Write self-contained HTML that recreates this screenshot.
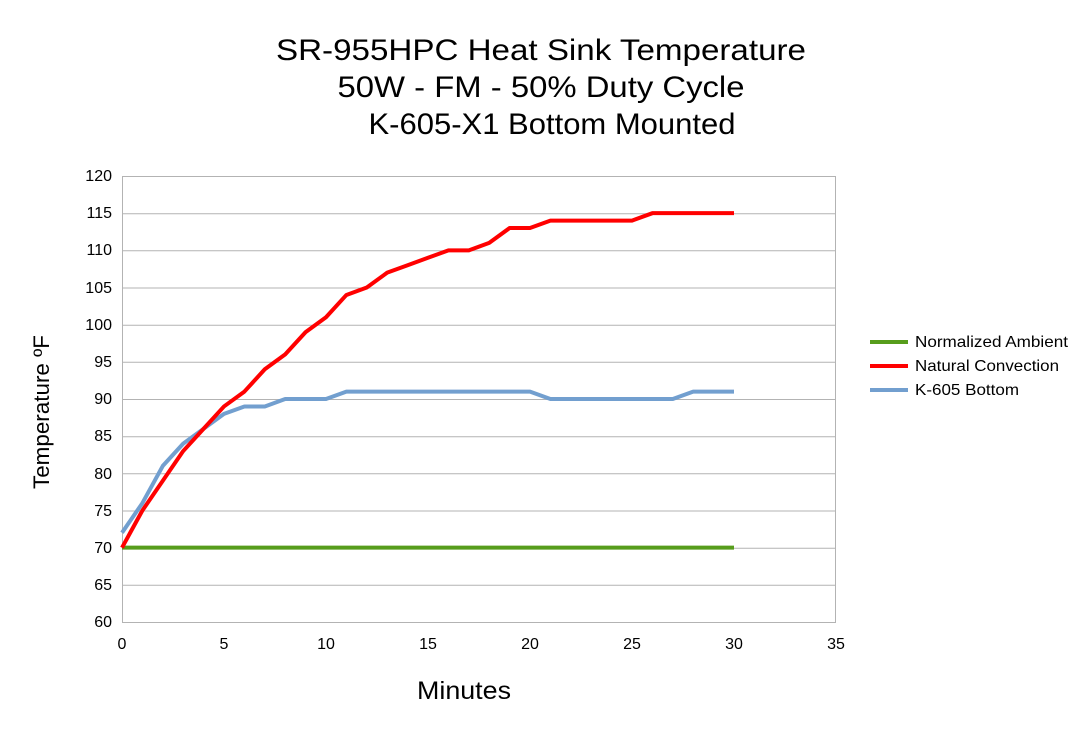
<!DOCTYPE html>
<html><head><style>body{margin:0;background:#fff}</style></head><body>
<svg width="1084" height="734" xmlns="http://www.w3.org/2000/svg" font-family="Liberation Sans, sans-serif">
<rect width="1084" height="734" fill="#fff"/>
<g font-size="30" text-anchor="middle" fill="#000">
<text x="541" y="60" textLength="530" lengthAdjust="spacingAndGlyphs">SR-955HPC Heat Sink Temperature</text>
<text x="541" y="97" textLength="407" lengthAdjust="spacingAndGlyphs">50W - FM - 50% Duty Cycle</text>
<text x="552" y="134" textLength="367" lengthAdjust="spacingAndGlyphs">K-605-X1 Bottom Mounted</text>
</g>
<g stroke="#b3b3b3" stroke-width="1">
<line x1="122" x2="836" y1="176.5" y2="176.5"/><line x1="122" x2="836" y1="213.7" y2="213.7"/>
<line x1="122" x2="836" y1="250.8" y2="250.8"/><line x1="122" x2="836" y1="288" y2="288"/>
<line x1="122" x2="836" y1="325.2" y2="325.2"/><line x1="122" x2="836" y1="362.3" y2="362.3"/>
<line x1="122" x2="836" y1="399.5" y2="399.5"/><line x1="122" x2="836" y1="436.7" y2="436.7"/>
<line x1="122" x2="836" y1="473.8" y2="473.8"/><line x1="122" x2="836" y1="511" y2="511"/>
<line x1="122" x2="836" y1="548.2" y2="548.2"/><line x1="122" x2="836" y1="585.3" y2="585.3"/>
<line x1="122" x2="836" y1="622.5" y2="622.5"/>
<line x1="122.5" x2="122.5" y1="176" y2="622"/><line x1="835.5" x2="835.5" y1="176" y2="622"/>
</g>
<g font-size="16" text-anchor="end" fill="#000">
<text x="112" y="181">120</text><text x="112" y="218">115</text><text x="112" y="255">110</text>
<text x="112" y="293">105</text><text x="112" y="330">100</text><text x="112" y="367">95</text>
<text x="112" y="404">90</text><text x="112" y="441">85</text><text x="112" y="479">80</text>
<text x="112" y="516">75</text><text x="112" y="553">70</text><text x="112" y="590">65</text>
<text x="112" y="627">60</text>
</g>
<g font-size="16" text-anchor="middle" fill="#000">
<text x="122" y="649">0</text><text x="224" y="649">5</text><text x="326" y="649">10</text>
<text x="428" y="649">15</text><text x="530" y="649">20</text><text x="632" y="649">25</text>
<text x="734" y="649">30</text><text x="836" y="649">35</text>
</g>
<text x="464" y="699" font-size="25" text-anchor="middle" textLength="94" lengthAdjust="spacingAndGlyphs">Minutes</text>
<text transform="translate(49,412) rotate(-90)" font-size="22" text-anchor="middle" textLength="154" lengthAdjust="spacingAndGlyphs">Temperature ºF</text>
<g transform="translate(122,622) scale(20.4,-7.433) translate(0,-60)" fill="none" stroke-width="4" stroke-linejoin="round">
<polyline vector-effect="non-scaling-stroke" stroke="#579d1c" points="0,70 30,70"/>
<polyline vector-effect="non-scaling-stroke" stroke="#729fcf" points="0,72 1,76 2,81 3,84 4,86 5,88 6,89 7,89 8,90 9,90 10,90 11,91 20,91 21,90 27,90 28,91 30,91"/>
<polyline vector-effect="non-scaling-stroke" stroke="#ff0000" points="0,70 1,75 2,79 3,83 4,86 5,89 6,91 7,94 8,96 9,99 10,101 11,104 12,105 13,107 14,108 15,109 16,110 17,110 18,111 19,113 20,113 21,114 25,114 26,115 30,115"/>
</g>
<g stroke-width="4">
<line x1="870" x2="908" y1="342" y2="342" stroke="#579d1c"/>
<line x1="870" x2="908" y1="366" y2="366" stroke="#ff0000"/>
<line x1="870" x2="908" y1="390" y2="390" stroke="#729fcf"/>
</g>
<g font-size="16" fill="#000">
<text x="915" y="347" textLength="153" lengthAdjust="spacingAndGlyphs">Normalized Ambient</text>
<text x="915" y="371" textLength="144" lengthAdjust="spacingAndGlyphs">Natural Convection</text>
<text x="915" y="395" textLength="104" lengthAdjust="spacingAndGlyphs">K-605 Bottom</text>
</g>
</svg>
</body></html>
